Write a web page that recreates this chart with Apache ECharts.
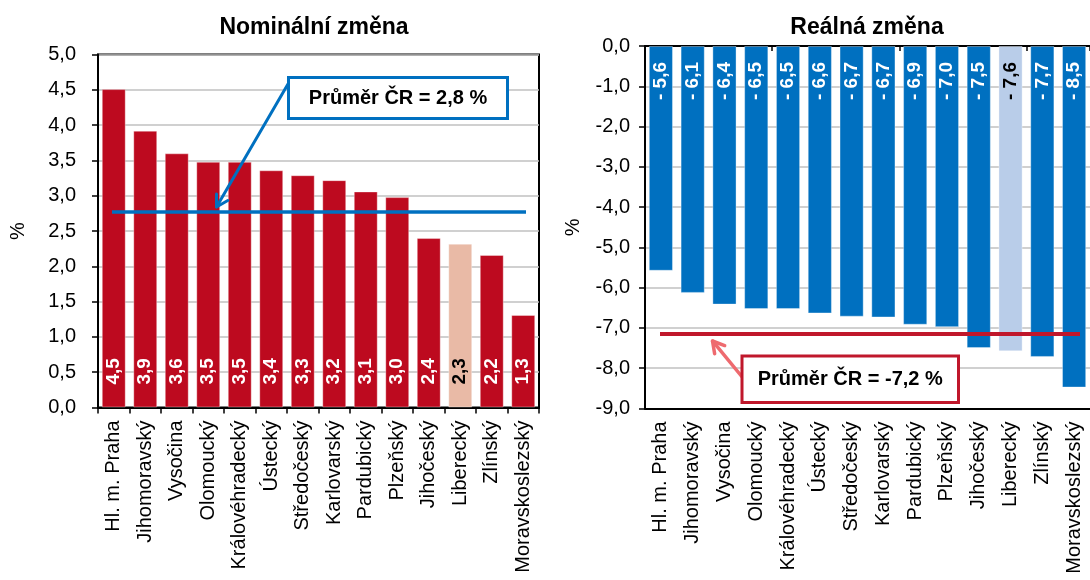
<!DOCTYPE html>
<html><head><meta charset="utf-8">
<script src="https://cdn.jsdelivr.net/npm/echarts@6/dist/echarts.min.js"></script>
<style>html,body{margin:0;padding:0;background:#fff}#c{width:1090px;height:580px}</style>
</head><body><div id="c"></div>
<script>
// ---- data ----
const regions = ['Hl. m. Praha','Jihomoravský','Vysočina','Olomoucký','Královéhradecký','Ústecký','Středočeský','Karlovarský','Pardubický','Plzeňský','Jihočeský','Liberecký','Zlínský','Moravskoslezský'];
const nominalValues = [4.51,3.92,3.60,3.48,3.48,3.36,3.29,3.22,3.06,2.98,2.40,2.32,2.16,1.31];
const realValues = [-5.58,-6.13,-6.42,-6.53,-6.53,-6.64,-6.72,-6.74,-6.92,-6.98,-7.50,-7.58,-7.72,-8.48];
const nominalAvg = 2.77;
const realAvg = -7.15;
const nominalAvgText = 'Průměr ČR = 2,8 %';
const realAvgText = 'Průměr ČR = -7,2 %';
const highlightRegion = 'Liberecký';
const titles = ['Nominální změna', 'Reálná změna'];
const nominalAxis = {min: 0, max: 5, step: 0.5};
const realAxis = {min: -9, max: 0, step: 1};

// ---- styling ----
const FONT = "'Liberation Sans', Arial, sans-serif";
const RED = '#bd0a1f', RED_LIGHT = '#e9baa6';
const BLUE = '#0070c0', BLUE_LIGHT = '#b9cde9';
const fmt = v => v.toFixed(1).replace('.', ',');

const chart = echarts.init(document.getElementById('c'), null, {renderer: 'canvas'});

function barData(vals, base, light) {
  return vals.map((v, i) => {
    const hl = regions[i] === highlightRegion;
    return {value: v, itemStyle: {color: hl ? light : base}, label: {color: hl ? '#000' : '#fff'}};
  });
}

const yLabel = {fontFamily: FONT, fontSize: 20, color: '#000'};
const catLabel = {fontFamily: FONT, fontSize: 20, color: '#000', rotate: 90, interval: 0, margin: 13};

const option = {
  animation: false,
  backgroundColor: '#fff',
  title: [
    {text: titles[0], left: 309, top: 11, textAlign: 'center', textStyle: {fontFamily: FONT, fontSize: 23, fontWeight: 'bold', color: '#000'}},
    {text: titles[1], left: 862, top: 11, textAlign: 'center', textStyle: {fontFamily: FONT, fontSize: 23, fontWeight: 'bold', color: '#000'}}
  ],
  grid: [
    {left: 98, top: 54.5, width: 441, height: 353, show: true, borderColor: '#000', borderWidth: 2, containLabel: false},
    {left: 645, top: 46, width: 451, height: 362.5, containLabel: false}
  ],
  xAxis: [
    {type: 'category', gridIndex: 0, data: regions, position: 'bottom',
     axisLine: {lineStyle: {color: '#000', width: 2}},
     axisTick: {show: true, length: 6, lineStyle: {color: '#000', width: 1.5}},
     axisLabel: catLabel},
    {type: 'category', gridIndex: 1, data: regions, position: 'bottom',
     axisLine: {onZero: false, lineStyle: {color: '#000', width: 2}},
     axisTick: {show: false},
     axisLabel: catLabel},
    {type: 'category', gridIndex: 1, data: regions, position: 'top',
     axisLine: {onZero: false, lineStyle: {color: '#000', width: 2}},
     axisTick: {show: true, inside: true, length: 5, lineStyle: {color: '#000', width: 1.5}},
     axisLabel: {show: false}}
  ],
  yAxis: [
    {type: 'value', gridIndex: 0, min: nominalAxis.min, max: nominalAxis.max, interval: nominalAxis.step,
     name: '%', nameLocation: 'middle', nameGap: 70, nameTextStyle: {fontFamily: FONT, fontSize: 20, color: '#000'},
     axisLine: {show: true, lineStyle: {color: '#000', width: 2}},
     axisTick: {show: true, length: 6, lineStyle: {color: '#000', width: 1.5}},
     axisLabel: Object.assign({margin: 22, formatter: v => fmt(v)}, yLabel),
     splitLine: {lineStyle: {color: '#c0c0c0', width: 1.5}}},
    {type: 'value', gridIndex: 1, min: realAxis.min, max: realAxis.max, interval: realAxis.step,
     name: '%', nameLocation: 'middle', nameGap: 62, nameTextStyle: {fontFamily: FONT, fontSize: 20, color: '#000'},
     axisLine: {show: true, onZero: false, lineStyle: {color: '#000', width: 2}},
     axisTick: {show: true, length: 6, lineStyle: {color: '#000', width: 1.5}},
     axisLabel: Object.assign({margin: 15, formatter: v => fmt(v)}, yLabel),
     splitLine: {lineStyle: {color: '#c0c0c0', width: 1.5}}}
  ],
  series: [
    {type: 'bar', xAxisIndex: 0, yAxisIndex: 0, data: barData(nominalValues, RED, RED_LIGHT),
     barCategoryGap: '24%',
     itemStyle: {borderColor: 'rgba(255,255,255,0.35)', borderWidth: 1},
     label: {show: true, position: 'insideBottom', distance: 23, rotate: 90, align: 'left', verticalAlign: 'middle',
             fontFamily: FONT, fontSize: 19, fontWeight: 'bold', formatter: p => fmt(p.value)},
     markLine: {silent: true, symbol: 'none', label: {show: false},
       lineStyle: {color: BLUE, width: 3.5, type: 'solid'},
       data: [[{coord: [0, nominalAvg], x: 112}, {coord: [13, nominalAvg], x: 526}]]}},
    {type: 'bar', xAxisIndex: 1, yAxisIndex: 1, data: barData(realValues, BLUE, BLUE_LIGHT),
     barCategoryGap: '24%',
     itemStyle: {borderColor: 'rgba(255,255,255,0.35)', borderWidth: 1},
     label: {show: true, position: 'insideTop', distance: 16, rotate: 90, align: 'right', verticalAlign: 'middle',
             fontFamily: FONT, fontSize: 19, fontWeight: 'bold', formatter: p => '- ' + fmt(Math.abs(p.value))},
     markLine: {silent: true, symbol: 'none', label: {show: false},
       lineStyle: {color: '#c0172b', width: 4, type: 'solid'},
       data: [[{coord: [0, realAvg], x: 660}, {coord: [13, realAvg], x: 1080}]]}}
  ]
};
chart.setOption(option);

// ---- annotations (boxes + arrows) ----
const yL = chart.convertToPixel({yAxisIndex: 0}, nominalAvg);
const yR = chart.convertToPixel({yAxisIndex: 1}, realAvg);

function arrow(x0, y0, x1, y1, color, w) {
  const dx = x1 - x0, dy = y1 - y0, L = Math.hypot(dx, dy);
  const ux = dx / L, uy = dy / L, h = 13, a = Math.PI / 6;
  const p1 = [x1 - h * (ux * Math.cos(a) - uy * Math.sin(a)), y1 - h * (uy * Math.cos(a) + ux * Math.sin(a))];
  const p2 = [x1 - h * (ux * Math.cos(-a) - uy * Math.sin(-a)), y1 - h * (uy * Math.cos(-a) + ux * Math.sin(-a))];
  return [
    {type: 'polyline', silent: true, z: 100, shape: {points: [[x0, y0], [x1, y1]]}, style: {stroke: color, lineWidth: w, lineCap: 'round'}},
    {type: 'polyline', silent: true, z: 100, shape: {points: [p1, [x1, y1], p2]}, style: {stroke: color, lineWidth: w, lineCap: 'round', lineJoin: 'round', fill: null}}
  ];
}
function box(x, y, w, h, color, text) {
  return [
    {type: 'rect', silent: true, z: 101, shape: {x: x, y: y, width: w, height: h}, style: {fill: '#fff', stroke: color, lineWidth: 3}},
    {type: 'text', silent: true, z: 102, x: x + w / 2, y: y + h / 2,
     style: {text: text, fill: '#000', font: "bold 20px " + FONT, align: 'center', verticalAlign: 'middle'}}
  ];
}
chart.setOption({graphic: [].concat(
  arrow(288, 84, 216.5, yL - 5, BLUE, 3),
  box(288.5, 77.5, 219, 41, BLUE, nominalAvgText),
  arrow(743, 378, 712.5, yR + 7, '#ee6a6f', 3.5),
  box(742, 356, 216.5, 46.5, '#c0172b', realAvgText)
)});
</script>
</body></html>
